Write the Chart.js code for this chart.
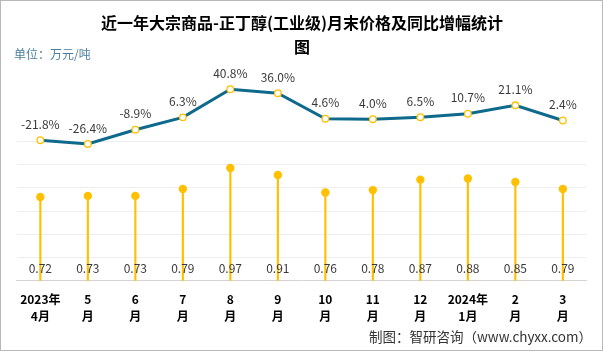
<!DOCTYPE html>
<html>
<head>
<meta charset="utf-8">
<script src="https://cdn.jsdelivr.net/npm/chart.js@4.4.1/dist/chart.umd.min.js"></script>
<style>
  html, body { margin: 0; padding: 0; background: #fff; }
  #wrap { width: 603px; height: 351px; position: relative; box-sizing: border-box; border: 1px solid #b8b8b8; }
  canvas { display: block; }
</style>
</head>
<body>
<div id="wrap"><canvas id="chart" width="601" height="349"></canvas></div>
<script>
// Data
const months = [["2023年", "4月"], ["5", "月"], ["6", "月"], ["7", "月"], ["8", "月"], ["9", "月"],
  ["10", "月"], ["11", "月"], ["12", "月"], ["2024年", "1月"], ["2", "月"], ["3", "月"]];
const price = [0.72, 0.73, 0.73, 0.79, 0.97, 0.91, 0.76, 0.78, 0.87, 0.88, 0.85, 0.79];
const growth = [-21.8, -26.4, -8.9, 6.3, 40.8, 36.0, 4.6, 4.0, 6.5, 10.7, 21.1, 2.4];

const titleLines = ["近一年大宗商品-正丁醇(工业级)月末价格及同比增幅统计", "图"];
const unitText = "单位：万元/吨";
const sourceText = "制图：智研咨询（www.chyxx.com）";

const YELLOW = "#FFC000";
const TEAL = "#0E6A8C";
const FONT = "'Noto Sans CJK SC', 'Microsoft YaHei', sans-serif";

// Texts + value labels
const decor = {
  id: "decor",
  afterDatasetsDraw(chart) {
    const { ctx, chartArea } = chart;
    ctx.save();
    // title
    ctx.fillStyle = "#000";
    ctx.font = "bold 16px " + FONT;
    ctx.textAlign = "center";
    ctx.textBaseline = "middle";
    ctx.fillText(titleLines[0], 301, 22);
    ctx.fillText(titleLines[1], 301, 46);
    // unit
    ctx.font = "12px " + FONT;
    ctx.fillStyle = "#4C7E9C";
    ctx.textAlign = "left";
    ctx.fillText(unitText, 13, 53);
    // source
    ctx.font = "13.5px " + FONT;
    ctx.fillStyle = "#333";
    ctx.textAlign = "right";
    ctx.fillText(sourceText, 591, 336);

    // growth labels
    const lineMeta = chart.getDatasetMeta(2);
    ctx.font = "12px " + FONT;
    ctx.fillStyle = "#3a3a3a";
    ctx.textAlign = "center";
    lineMeta.data.forEach((pt, i) => {
      ctx.fillText(growth[i].toFixed(1) + "%", pt.x, pt.y - 16);
    });
    // price labels near base
    const dotMeta = chart.getDatasetMeta(1);
    dotMeta.data.forEach((pt, i) => {
      ctx.fillText(price[i].toFixed(2), pt.x, chartArea.bottom - 12);
    });
    ctx.restore();
  }
};

new Chart(document.getElementById("chart"), {
  data: {
    labels: months,
    datasets: [
      { type: "bar", data: price, yAxisID: "y", backgroundColor: YELLOW, barThickness: 1.5, order: 3 },
      { type: "line", data: price, yAxisID: "y", showLine: false, pointRadius: 4.2,
        pointBackgroundColor: YELLOW, pointBorderColor: YELLOW, pointBorderWidth: 0, order: 2 },
      { type: "line", data: growth, yAxisID: "y1", borderColor: TEAL, borderWidth: 3,
        pointRadius: 3.3, pointBackgroundColor: "#fff", pointBorderColor: YELLOW, pointBorderWidth: 1.3,
        tension: 0, order: 1 }
    ]
  },
  options: {
    responsive: false,
    animation: false,
    layout: { padding: { left: 15.6, right: 15.4, top: 47, bottom: 15 } },
    plugins: { legend: { display: false }, tooltip: { enabled: false } },
    scales: {
      x: {
        offset: true,
        grid: { display: false, drawTicks: false },
        border: { color: "#d4d4d4", width: 1 },
        ticks: {
          color: "#000", autoSkip: false, maxRotation: 0, padding: 10,
          font: { family: FONT, size: 12, weight: "bold", lineHeight: 1.42 }
        }
      },
      y: {
        display: true, min: 0, max: 2.0,
        border: { display: false },
        grid: {
          drawTicks: false,
          color: (c) => (c.tick && c.tick.value > 0.01 && c.tick.value < 1.21) ? "#eeeeee" : "rgba(0,0,0,0)"
        },
        ticks: { display: false, stepSize: 0.2 }
      },
      y1: { display: false, min: -194.7, max: 91.5 }
    }
  },
  plugins: [decor]
});
</script>
</body>
</html>
